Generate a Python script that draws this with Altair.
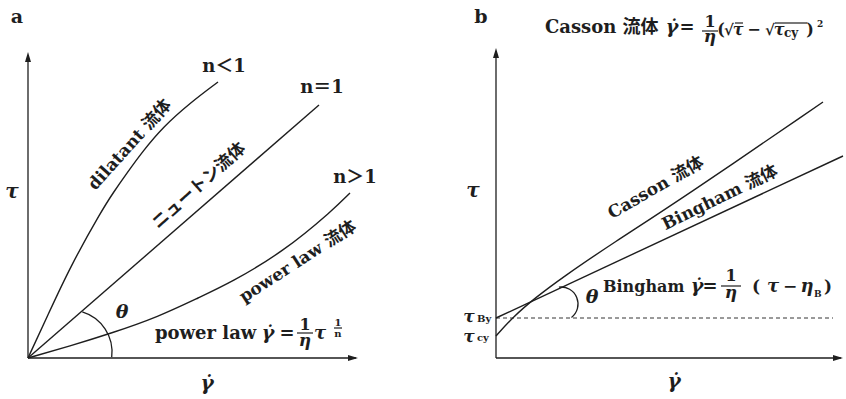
import altair as alt
import pandas as pd

# ---------------------------------------------------------------
# Flow curves (shear rate  γ̇  on x, shear stress  τ  on y).
# Schematic diagram in arbitrary units; each panel has its own axes.
# ---------------------------------------------------------------

# panel a: origin-starting flow curves
dilatant_g = [0, 19, 42, 74, 85, 99, 115, 135, 162, 190]
dilatant_t = [0, 41, 91, 148, 165, 185, 207, 231, 255, 276]
newton_g = [0, 291]
newton_t = [0, 253]
power_g = [0, 42, 84, 130, 172, 202, 255, 305, 322]
power_t = [0, 12, 25, 41, 61, 75, 106, 148, 165]

# panel b: fluids with a yield stress
tau_By = 40
tau_cy = 22
bingham_g = [0, 347]
bingham_t = [tau_By, 202]
casson_g = [0, 17, 39, 67, 117, 184, 327]
casson_t = [tau_cy, 41, 60, 81, 115, 158, 256]
yield_line_end = 337

INK = "#1e1e1e"
FONT = "DejaVu Serif, Noto Sans CJK JP, serif"

# each panel maps its own units onto its part of the page
XA = alt.Scale(domain=[0, 330], range=[28, 358], nice=False, zero=False)
YA = alt.Scale(domain=[0, 306], range=[358, 52], nice=False, zero=False)
XB = alt.Scale(domain=[0, 347], range=[496, 843], nice=False, zero=False)
YB = alt.Scale(domain=[0, 310], range=[358, 48], nice=False, zero=False)


def curves_frame(series):
    rows = []
    for name, gs, ts in series:
        for i, (g, t) in enumerate(zip(gs, ts)):
            rows.append({"curve": name, "i": i, "g": g, "t": t})
    return pd.DataFrame(rows)


def curve_layer(df, xs, ys, interpolate="basis", **kw):
    return alt.Chart(df).mark_line(
        color=INK, strokeWidth=1.4, interpolate=interpolate, **kw
    ).encode(
        x=alt.X("g:Q", scale=xs, axis=None),
        y=alt.Y("t:Q", scale=ys, axis=None),
        detail="curve:N",
        order="i:Q",
    )


def rule_layer(df, xs, ys, width=1.3, **kw):
    enc = dict(
        x=alt.X("x:Q", scale=xs, axis=None),
        x2="x2:Q",
        y=alt.Y("y:Q", scale=ys, axis=None),
    )
    if "y2" in df.columns:
        enc["y2"] = "y2:Q"
    return alt.Chart(df).mark_rule(color=INK, strokeWidth=width, **kw).encode(**enc)


def text_layer(df, xs, ys, align="center", baseline="alphabetic", italic=False):
    return alt.Chart(df).mark_text(
        font=FONT,
        fontWeight="bold",
        fontStyle="italic" if italic else "normal",
        align=align,
        baseline=baseline,
        color=INK,
    ).encode(
        x=alt.X("x:Q", scale=xs, axis=None),
        y=alt.Y("y:Q", scale=ys, axis=None),
        text="label:N",
        size=alt.Size("size:Q", scale=None),
        angle=alt.Angle("angle:Q", scale=None),
    )


def symbol_layer(df, xs, ys, shape, size, filled):
    mark = dict(shape=shape, size=size, opacity=1, color=INK)
    if filled:
        mark.update(filled=True, strokeWidth=0)
    else:
        mark.update(filled=False, strokeWidth=1.3)
    return alt.Chart(df).mark_point(**mark).encode(
        x=alt.X("x:Q", scale=xs, axis=None),
        y=alt.Y("y:Q", scale=ys, axis=None),
    )


ARROW_RIGHT = "M 0 0 L -2 -0.6 L -2 0.6 Z"
ARROW_UP = "M 0 0 L -0.6 2 L 0.6 2 Z"
# angle markers (unit-circle arcs, scaled by the symbol size)
ARC_A = "M 0.292 -0.956 A 1 1 0 0 1 0.993 0.122"
ARC_B = "M -0.122 -0.993 A 1 1 0 0 1 0.616 0.788"


def T(x, y, label, size=18, angle=0):
    return {"x": x, "y": y, "label": label, "size": size, "angle": angle}


# ------------------------------ panel a ------------------------------
a_curves = curves_frame([
    ("dilatant", dilatant_g, dilatant_t),
    ("power", power_g, power_t),
])
a_newton = curves_frame([("newton", newton_g, newton_t)])
a_axes = pd.DataFrame([
    {"x": 0, "x2": 328, "y": 0, "y2": 0},
    {"x": 0, "x2": 0, "y": 0, "y2": 303},
])
a_tips_r = pd.DataFrame([{"x": 330, "y": 0}])
a_tips_u = pd.DataFrame([{"x": 0, "y": 306}])
a_arc = pd.DataFrame([{"x": 42, "y": 6}])
a_bars = pd.DataFrame([
    {"x": 269, "x2": 285, "y": 25},
    {"x": 306, "x2": 314, "y": 30},
])

a_rot = pd.DataFrame([
    T(102, 213, "dilatant 流体", 17, 312),
    T(171, 172, "ニュートン流体", 17, 318),
    T(270, 96, "power law 流体", 17, 327),
])
a_plain = pd.DataFrame([
    T(-11, 335, "a", 19),
    T(196, 286, "n＜1", 18),
    T(294, 265, "n＝1", 18),
    T(327, 175, "n＞1", 18),
    T(259, 19, "=", 18),
    T(277, 28, "1", 16),
    T(310, 32, "1", 10),
    T(310, 21, "n", 10),
])
a_left = pd.DataFrame([T(127, 19, "power law", 18)])
a_greek = pd.DataFrame([
    T(-16, 160, "τ", 20),
    T(179, -32, "γ̇", 20),
    T(94, 40, "θ", 19),
    T(240, 19, "γ̇", 19),
    T(277, 12, "η", 17),
    T(292, 19, "τ", 18),
])

panel_a = [
    rule_layer(a_axes, XA, YA),
    symbol_layer(a_tips_r, XA, YA, ARROW_RIGHT, 100, True),
    symbol_layer(a_tips_u, XA, YA, ARROW_UP, 100, True),
    curve_layer(a_curves, XA, YA),
    curve_layer(a_newton, XA, YA, interpolate="linear"),
    symbol_layer(a_arc, XA, YA, ARC_A, 84 * 84, False),
    rule_layer(a_bars, XA, YA, width=1.2),
    text_layer(a_rot, XA, YA, baseline="middle"),
    text_layer(a_plain, XA, YA),
    text_layer(a_left, XA, YA, align="left"),
    text_layer(a_greek, XA, YA, italic=True),
]

# ------------------------------ panel b ------------------------------
b_curves = curves_frame([("casson", casson_g, casson_t)])
b_bingham = curves_frame([("bingham", bingham_g, bingham_t)])
b_axes = pd.DataFrame([
    {"x": 0, "x2": 345, "y": 0, "y2": 0},
    {"x": 0, "x2": 0, "y": 0, "y2": 307},
])
b_yield = pd.DataFrame([{"x": 0, "x2": yield_line_end, "y": tau_By}])
b_tips_r = pd.DataFrame([{"x": 347, "y": 0}])
b_tips_u = pd.DataFrame([{"x": 0, "y": 310}])
b_arc = pd.DataFrame([{"x": 65, "y": 54}])
b_bars = pd.DataFrame([
    {"x": 206, "x2": 222, "y": 327},
    {"x": 239, "x2": 247, "y": 335},
    {"x": 279, "x2": 311, "y": 335},
    {"x": 225, "x2": 245, "y": 72},
])

b_rot = pd.DataFrame([
    T(160, 170, "Casson 流体", 17, 330),
    T(224, 160, "Bingham 流体", 17, 334),
])
b_plain = pd.DataFrame([
    T(-15, 335, "b", 19),
    T(191, 325, "=", 18),
    T(214, 331, "1", 16),
    T(225, 323, "(", 16),
    T(233, 323, "√", 15),
    T(258, 323, "−", 16),
    T(274, 323, "√", 15),
    T(314, 323, ")", 16),
    T(324, 331, "2", 9),
    T(214, 66, "=", 18),
    T(235, 77, "1", 16),
    T(260, 66, "(", 17),
    T(294, 66, "−", 17),
    T(332, 66, ")", 17),
])
b_left = pd.DataFrame([
    T(49, 325, "Casson 流体", 18),
    T(107, 66, "Bingham", 16),
    T(-19, 36, "By", 10),
    T(-19, 17, "cy", 10),
    T(288, 321, "cy", 12),
    T(318, 61, "B", 9),
])
b_greek = pd.DataFrame([
    T(-23, 161, "τ", 20),
    T(178, -30, "γ̇", 20),
    T(96, 55, "θ", 19),
    T(176, 325, "γ̇", 19),
    T(214, 316, "η", 17),
    T(242, 323, "τ", 16),
    T(283, 323, "τ", 16),
    T(-27, 36, "τ", 17),
    T(-27, 16, "τ", 17),
    T(201, 66, "γ̇", 19),
    T(235, 60, "η", 17),
    T(277, 66, "τ", 18),
    T(311, 66, "η", 18),
])

panel_b = [
    rule_layer(b_axes, XB, YB),
    symbol_layer(b_tips_r, XB, YB, ARROW_RIGHT, 100, True),
    symbol_layer(b_tips_u, XB, YB, ARROW_UP, 100, True),
    rule_layer(b_yield, XB, YB, width=0.9, strokeDash=[4, 3]),
    curve_layer(b_curves, XB, YB),
    curve_layer(b_bingham, XB, YB, interpolate="linear"),
    symbol_layer(b_arc, XB, YB, ARC_B, 34 * 34, False),
    rule_layer(b_bars, XB, YB, width=1.2),
    text_layer(b_rot, XB, YB, baseline="middle"),
    text_layer(b_plain, XB, YB),
    text_layer(b_left, XB, YB, align="left"),
    text_layer(b_greek, XB, YB, italic=True),
]

chart = (
    alt.layer(*panel_a, *panel_b)
    .resolve_scale(x="independent", y="independent")
    .properties(
        width=846,
        height=399,
        padding=0,
        background="white",
        autosize=alt.AutoSizeParams(type="none"),
    )
    .configure_view(stroke=None)
)

chart.save("out.html", embed_options={"renderer": "svg", "actions": False})
